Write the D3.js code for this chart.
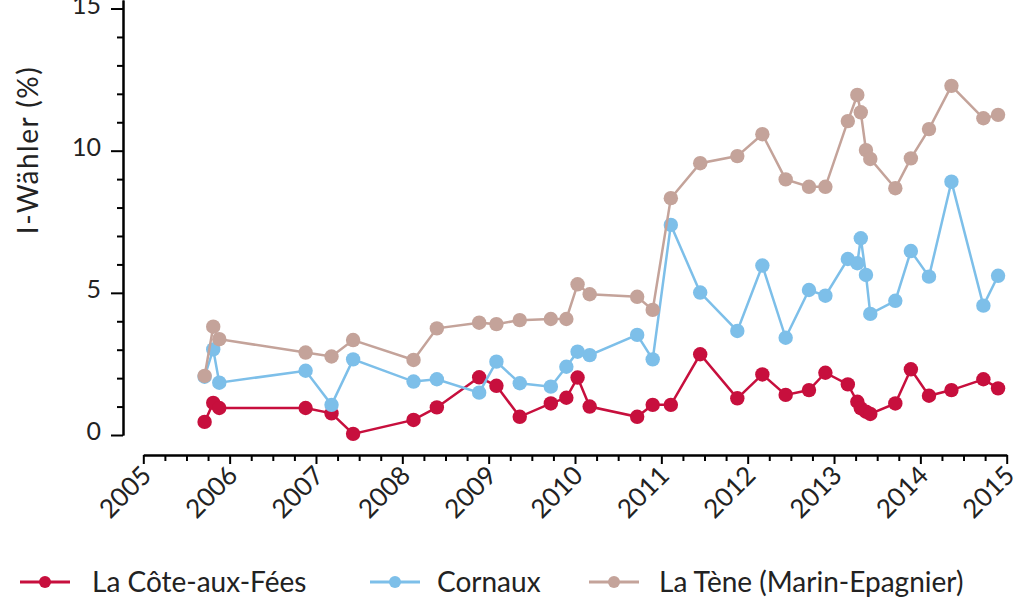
<!DOCTYPE html>
<html>
<head>
<meta charset="utf-8">
<script src="https://cdn.jsdelivr.net/npm/d3@7"></script>
<style>
  html, body { margin: 0; padding: 0; background: #fff; }
  svg { display: block; font-family: Lato, "Open Sans", sans-serif; }
</style>
</head>
<body>
<svg id="chart" width="1019" height="606"></svg>
<script>
// ---- data (decimal years, values in %) ----
const dates = [2005.71, 2005.81, 2005.88, 2006.88, 2007.18, 2007.43, 2008.13, 2008.40, 2008.89, 2009.09,
  2009.36, 2009.72, 2009.90, 2010.03, 2010.17, 2010.72, 2010.90, 2011.11, 2011.45, 2011.88,
  2012.17, 2012.44, 2012.71, 2012.90, 2013.16, 2013.27, 2013.31, 2013.37, 2013.42, 2013.71,
  2013.89, 2014.10, 2014.36, 2014.73, 2014.90];

const coteAuxFees = [0.46, 1.13, 0.95, 0.95, 0.76, 0.04, 0.53, 0.97, 2.03, 1.73,
  0.64, 1.11, 1.31, 2.02, 1.00, 0.64, 1.06, 1.06, 2.84, 1.29,
  2.13, 1.41, 1.58, 2.19, 1.78, 1.17, 0.94, 0.82, 0.74, 1.11,
  2.31, 1.38, 1.58, 1.96, 1.64];

const cornaux = [2.05, 3.01, 1.84, 2.26, 1.06, 2.66, 1.88, 1.96, 1.49, 2.58,
  1.82, 1.70, 2.40, 2.93, 2.81, 3.52, 2.66, 7.39, 5.01, 3.66,
  5.96, 3.42, 5.10, 4.90, 6.19, 6.04, 6.92, 5.63, 4.26, 4.72,
  6.47, 5.57, 8.91, 4.55, 5.60];

const laTene = [2.08, 3.81, 3.37, 2.90, 2.76, 3.34, 2.64, 3.75, 3.95, 3.90,
  4.04, 4.08, 4.08, 5.30, 4.95, 4.86, 4.40, 8.33, 9.56, 9.81,
  10.58, 8.99, 8.73, 8.73, 11.04, 11.96, 11.35, 10.02, 9.71, 8.68,
  9.73, 10.76, 12.28, 11.14, 11.26];

const seriesNames = ["La Côte-aux-Fées", "Cornaux", "La Tène (Marin-Epagnier)"];
const seriesColors = ["#c70f3d", "#7dbfe9", "#c4a39a"];
const yMajorTicks = [0, 5, 10, 15];
const xMajorTicks = [2005, 2006, 2007, 2008, 2009, 2010, 2011, 2012, 2013, 2014, 2015];
const yTitle = "I-Wähler (%)";

// ---- drawing ----
const svg = d3.select("#chart");
const x = d3.scaleLinear().domain([2005, 2015]).range([143.3, 1006.7]);
const y = d3.scaleLinear().domain([0, 15.3]).range([435, 0]);
const x0 = 123, yAxisPos = 455;

// Y axis
const yMinor = d3.range(0, 16).filter(v => !yMajorTicks.includes(v));
const yAxisG = svg.append("g").attr("transform", `translate(${x0},0)`);
yAxisG.call(d3.axisLeft(y).tickValues(yMinor).tickSize(6).tickFormat("").tickSizeOuter(0));
yAxisG.call(g => g.append("g").call(d3.axisLeft(y).tickValues(yMajorTicks).tickSize(12).tickSizeOuter(0)));
yAxisG.selectAll("path.domain").attr("stroke", "#000").attr("stroke-width", 2);
yAxisG.selectAll(".tick line").attr("stroke", "#000").attr("stroke-width", 2);
yAxisG.selectAll(".tick text").attr("font-size", 25).attr("font-family", "Lato").attr("fill", "#222")
  .attr("x", -22).attr("dy", "0.18em");

// X axis
const xMinor = d3.range(2005, 2015.01, 0.25).filter(v => Math.abs(v - Math.round(v)) > 0.01);
const xAxisG = svg.append("g").attr("transform", `translate(0,${yAxisPos})`);
xAxisG.call(d3.axisBottom(x).tickValues(xMinor).tickSize(6).tickFormat("").tickSizeOuter(0));
xAxisG.call(g => g.append("g").call(d3.axisBottom(x).tickValues(xMajorTicks).tickSize(9).tickSizeOuter(0).tickFormat(d3.format("d"))));
xAxisG.selectAll("path.domain").attr("stroke", "#000").attr("stroke-width", 2);
xAxisG.selectAll(".tick line").attr("stroke", "#000").attr("stroke-width", 2);
xAxisG.selectAll(".tick text").attr("font-size", 26).attr("font-family", "Lato").attr("fill", "#222")
  .attr("text-anchor", "end").attr("y", 0).attr("dy", 0)
  .attr("transform", "translate(9,22) rotate(-45)");

// Y title
svg.append("text")
  .attr("transform", "translate(38,150) rotate(-90)")
  .attr("text-anchor", "middle")
  .attr("font-size", 28).attr("font-family", "Lato").attr("fill", "#222")
  .attr("letter-spacing", 1.5)
  .text(yTitle);

// series
const allSeries = [coteAuxFees, cornaux, laTene];
const line = d3.line().x(d => x(d[0])).y(d => y(d[1]));
allSeries.forEach((vals, i) => {
  const pts = dates.map((d, j) => [d, vals[j]]);
  const g = svg.append("g");
  g.append("path").datum(pts).attr("d", line).attr("fill", "none")
    .attr("stroke", seriesColors[i]).attr("stroke-width", 2.5);
  g.selectAll("circle").data(pts).join("circle")
    .attr("cx", d => x(d[0])).attr("cy", d => y(d[1])).attr("r", 7.2)
    .attr("fill", seriesColors[i]);
});

// legend
const legendDots = [45, 395, 614];
const legendText = [92, 437, 659];
const ly = 582;
seriesNames.forEach((name, i) => {
  svg.append("line").attr("x1", legendDots[i] - 25).attr("x2", legendDots[i] + 25)
    .attr("y1", ly).attr("y2", ly).attr("stroke", seriesColors[i]).attr("stroke-width", 3);
  svg.append("circle").attr("cx", legendDots[i]).attr("cy", ly).attr("r", 6).attr("fill", seriesColors[i]);
  svg.append("text").attr("x", legendText[i]).attr("y", ly).attr("dy", "0.36em")
    .attr("font-size", 28).attr("font-family", "Lato").attr("fill", "#222").text(name);
});
</script>
</body>
</html>
